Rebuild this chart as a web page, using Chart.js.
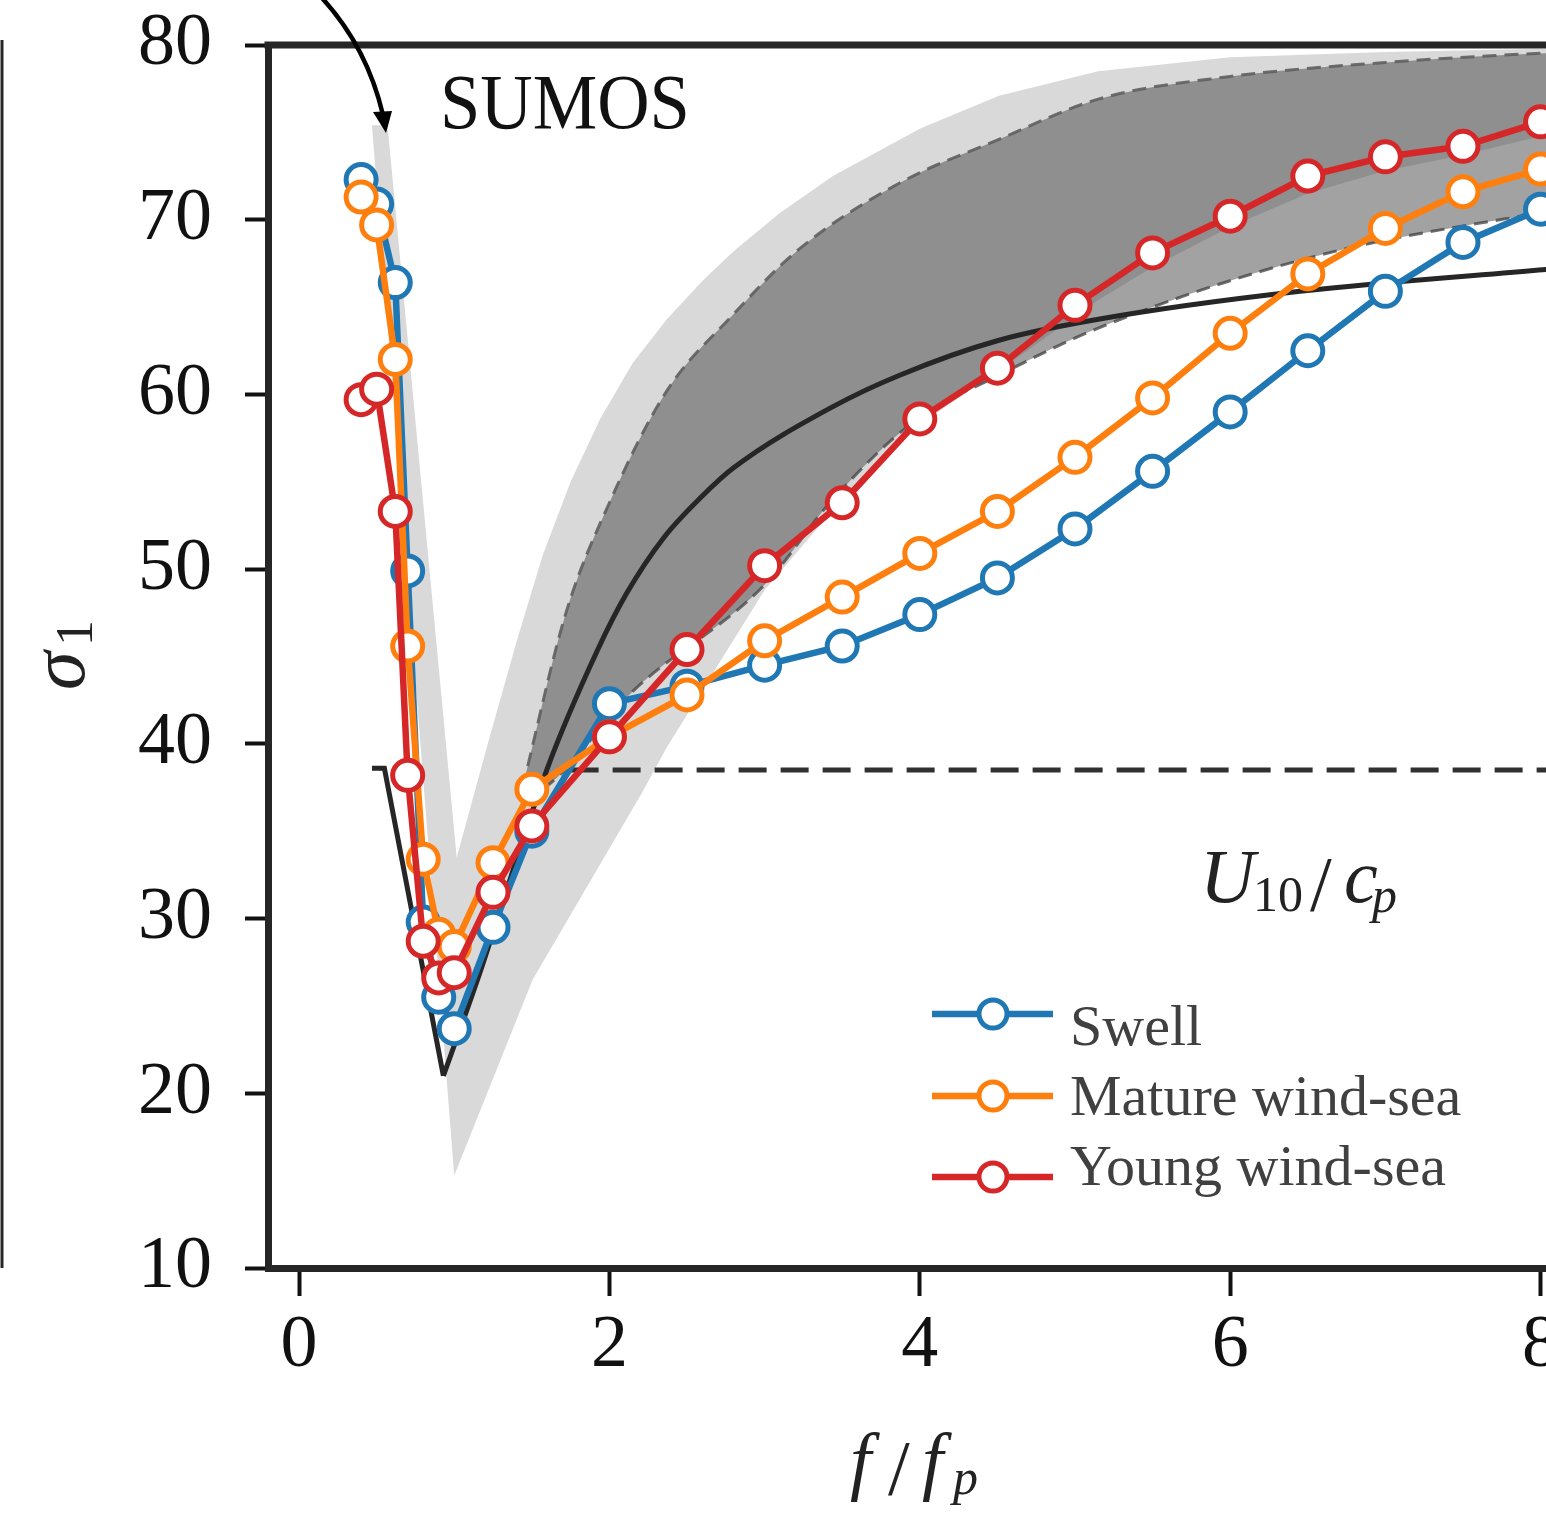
<!DOCTYPE html>
<html>
<head>
<meta charset="utf-8">
<title>sigma_1 vs f/fp</title>
<script src="https://cdn.jsdelivr.net/npm/chart.js@4.4.1/dist/chart.umd.min.js"></script>
<style>
  html, body { margin: 0; padding: 0; background: #fff; overflow: hidden; }
  #wrap { width: 1600px; height: 1513px; }
</style>
</head>
<body>
<div id="wrap"><canvas id="sigmaChart" width="1600" height="1513"></canvas></div>
<script>
// f/fp bin centres
const freqRatio = [0.4, 0.5, 0.62, 0.7, 0.8, 0.9, 1.0, 1.25, 1.5, 2, 2.5, 3, 3.5, 4, 4.5, 5, 5.5, 6, 6.5, 7, 7.5, 8];
// sigma_1 per sea state
const swell     = [72.3, 70.9, 66.4, 49.9, 29.8, 25.5, 23.7, 29.5, 35.0, 42.3, 43.3, 44.5, 45.6, 47.4, 49.5, 52.3, 55.6, 59.0, 62.5, 65.9, 68.7, 70.6];
const matureSea = [71.3, 69.7, 62.0, 45.6, 33.4, 29.1, 28.4, 33.2, 37.4, 40.4, 42.8, 45.9, 48.4, 50.9, 53.3, 56.4, 59.8, 63.5, 66.9, 69.5, 71.6, 72.9];
const youngSea  = [59.7, 60.3, 53.3, 38.2, 28.7, 26.6, 26.9, 31.5, 35.3, 40.4, 45.4, 50.2, 53.8, 58.6, 61.5, 65.1, 68.1, 70.2, 72.5, 73.6, 74.2, 75.6];

// fitted curve: falling branch and rising branch
const modelDownX = [0.47, 0.55, 0.93];
const modelDownY = [38.6, 38.6, 21.0];
const modelUpX = [0.93, 1.15, 1.6, 1.92, 2.11, 2.35, 2.6, 2.8, 3.44, 3.87, 4.51, 5.15, 6.45, 8.1];
const modelUpY = [21.0, 26.5, 38.6, 45.3, 48.6, 51.8, 54.2, 55.8, 59.3, 61.1, 63.1, 64.3, 65.9, 67.2];
// constant level
const levelX = [1.75, 8.1];
const levelY = [38.5, 38.5];

// SUMOS envelopes
const outerTopX = [0.47, 0.57, 1.016, 1.21, 1.4, 1.57, 1.75, 1.94, 2.15, 2.37, 2.6, 2.8, 3.1, 3.44, 4.0, 4.51, 5.15, 6.0, 7.0, 8.1];
const outerTopY = [75.4, 75.4, 33.5, 39.8, 45.8, 50.8, 55.0, 58.6, 61.8, 64.3, 66.5, 68.2, 70.4, 72.5, 75.2, 77.1, 78.5, 79.3, 79.6, 79.8];
const outerBotX = [0.47, 1.0, 1.505, 2.21, 2.37, 3.0, 3.5, 4.0, 4.5, 5.15, 5.5, 6.0, 6.5, 7.0, 7.5, 8.1];
const outerBotY = [75.4, 15.3, 26.5, 37.2, 39.8, 48.8, 54.0, 58.3, 61.3, 65.4, 67.3, 69.6, 71.5, 72.8, 73.7, 75.0];
const innerTopX = [1.44, 1.72, 2.0, 2.37, 2.79, 3.22, 3.87, 4.51, 5.15, 6.0, 7.0, 7.94, 8.1];
const innerTopY = [37.5, 47.5, 53.8, 60.2, 64.5, 68.3, 72.1, 74.6, 76.9, 78.2, 79.0, 79.5, 79.55];
const innerBotX = [1.44, 1.6, 2.15, 3.0, 3.43, 3.97, 4.51, 5.15, 6.5, 7.94, 8.1];
const innerBotY = [37.0, 37.6, 43.0, 49.1, 53.9, 58.5, 61.1, 63.8, 67.8, 70.3, 70.5];

const xTicks = [0, 2, 4, 6, 8];
const yTicks = [10, 20, 30, 40, 50, 60, 70, 80];

const pts = (xs, ys) => xs.map((x, i) => ({ x: x, y: ys[i] }));
const SERIF = '"Liberation Serif", "Times New Roman", serif';

function series(label, color, ys, order) {
  return {
    label: label, data: pts(freqRatio, ys), showLine: true, order: order,
    borderColor: color, borderWidth: 6.5, fill: false,
    pointRadius: 15, pointBorderWidth: 5, pointBorderColor: color, pointBackgroundColor: '#fff'
  };
}
function plain(xs, ys, opts) {
  return Object.assign({ data: pts(xs, ys), showLine: true, pointRadius: 0, fill: false }, opts);
}

// math-ish text: list of [text, font, dx, dy]
function drawParts(ctx, x, y, parts) {
  parts.forEach(p => {
    ctx.font = p[1];
    ctx.fillText(p[0], x + p[2], y + p[3]);
  });
}

const decor = {
  id: 'decor',
  afterDraw(chart) {
    const ctx = chart.ctx, a = chart.chartArea;
    ctx.save();
    ctx.strokeStyle = '#262626';
    ctx.lineWidth = 7;
    ctx.beginPath(); ctx.moveTo(a.left - 3.5, a.top); ctx.lineTo(chart.width, a.top); ctx.stroke();
    // frame edge of the neighbouring panel
    ctx.lineWidth = 3;
    ctx.beginPath(); ctx.moveTo(2, 40); ctx.lineTo(2, 1268); ctx.stroke();

    // arrow
    ctx.strokeStyle = '#000'; ctx.fillStyle = '#000'; ctx.lineWidth = 4.5;
    ctx.beginPath(); ctx.moveTo(322, -2); ctx.quadraticCurveTo(367, 47, 383, 115); ctx.stroke();
    ctx.beginPath(); ctx.moveTo(373, 112); ctx.lineTo(392, 111); ctx.lineTo(386, 133); ctx.closePath(); ctx.fill();

    ctx.textBaseline = 'alphabetic'; ctx.textAlign = 'left';
    // SUMOS tag
    ctx.fillStyle = '#111';
    ctx.save(); ctx.translate(440, 128); ctx.scale(0.93, 1);
    ctx.font = '78px ' + SERIF; ctx.fillText('SUMOS', 0, 0);
    ctx.restore();

    // U10/cp
    ctx.fillStyle = '#222';
    drawParts(ctx, 1200, 902, [
      ['U', 'italic 76px ' + SERIF, 0, 0],
      ['10', '50px ' + SERIF, 53, 9],
      ['/', '78px ' + SERIF, 110, 8],
      ['c', 'italic 76px ' + SERIF, 144, 0],
      ['p', 'italic 50px ' + SERIF, 172, 10]
    ]);

    // x title f/fp
    drawParts(ctx, 850, 1486, [
      ['f', 'italic 76px ' + SERIF, 0, 0],
      ['/', '78px ' + SERIF, 38, 8],
      ['f', 'italic 76px ' + SERIF, 72, 0],
      ['p', 'italic 50px ' + SERIF, 103, 8]
    ]);

    // y title sigma_1
    ctx.save(); ctx.translate(84, 690); ctx.rotate(-Math.PI / 2);
    drawParts(ctx, 0, 0, [
      ['\u03C3', 'italic 78px ' + SERIF, 0, 0],
      ['1', '52px ' + SERIF, 44, 8]
    ]);
    ctx.restore();

    // legend: handle row y, label baseline y
    const rows = [['Swell', 1014, 1045], ['Mature wind-sea', 1096, 1115], ['Young wind-sea', 1177, 1185]];
    const byLabel = {};
    chart.data.datasets.forEach(d => { byLabel[d.label] = d; });
    rows.forEach(r => {
      const ds = byLabel[r[0]];
      ctx.strokeStyle = ds.borderColor; ctx.lineWidth = 6.5;
      ctx.beginPath(); ctx.moveTo(932, r[1]); ctx.lineTo(1053, r[1]); ctx.stroke();
      ctx.fillStyle = '#fff'; ctx.lineWidth = 5;
      ctx.beginPath(); ctx.arc(993, r[1], 14, 0, Math.PI * 2); ctx.fill(); ctx.stroke();
      ctx.fillStyle = '#404040'; ctx.font = '58px ' + SERIF;
      ctx.fillText(r[0], 1070, r[2]);
    });
    ctx.restore();
  }
};

// keep label overhang from shifting the plot frame
const noPad = s => { s.paddingTop = 0; s.paddingBottom = 0; s.paddingLeft = 0; s.paddingRight = 0; };

new Chart(document.getElementById('sigmaChart'), {
  type: 'scatter',
  data: {
    datasets: [
      series('Young wind-sea', '#d62728', youngSea, 1),
      series('Mature wind-sea', '#ff7f0e', matureSea, 2),
      series('Swell', '#1f77b4', swell, 3),
      plain(modelDownX, modelDownY, { label: 'model down', borderColor: '#262626', borderWidth: 5, order: 4 }),
      plain(modelUpX, modelUpY, { label: 'model up', borderColor: '#262626', borderWidth: 5, order: 4, cubicInterpolationMode: 'monotone' }),
      plain(levelX, levelY, { label: 'level', borderColor: '#303030', borderWidth: 5, borderDash: [28, 14], order: 5 }),
      plain(innerTopX, innerTopY, { label: 'inner top', borderColor: 'rgba(95,95,95,0.9)', borderWidth: 3, borderDash: [14, 8],
        fill: '+1', backgroundColor: 'rgba(66,66,66,0.49)', order: 6, cubicInterpolationMode: 'monotone' }),
      plain(innerBotX, innerBotY, { label: 'inner bottom', borderColor: 'rgba(95,95,95,0.9)', borderWidth: 3, borderDash: [14, 8],
        order: 6, cubicInterpolationMode: 'monotone' }),
      plain(outerTopX, outerTopY, { label: 'outer top', borderColor: 'rgba(0,0,0,0)', borderWidth: 0,
        fill: '+1', backgroundColor: '#d9d9d9', order: 8 }),
      plain(outerBotX, outerBotY, { label: 'outer bottom', borderColor: 'rgba(0,0,0,0)', borderWidth: 0, order: 8 })
    ]
  },
  options: {
    responsive: false,
    animation: false,
    devicePixelRatio: 1,
    layout: { padding: { left: 0, top: 45, right: 54, bottom: 0 } },
    plugins: { legend: { display: false }, tooltip: { enabled: false } },
    elements: { line: { tension: 0 } },
    scales: {
      x: {
        type: 'linear', min: -0.2, max: 8.035,
        afterFit: s => { s.height = 245; noPad(s); },
        afterBuildTicks: s => { s.ticks = xTicks.map(v => ({ value: v })); },
        border: { color: '#262626', width: 7 },
        grid: { drawOnChartArea: false, drawTicks: true, tickLength: 28, tickWidth: 4, tickColor: '#111' },
        ticks: { font: { family: SERIF, size: 74 }, color: '#111', padding: 6, autoSkip: false, maxRotation: 0 }
      },
      y: {
        type: 'linear', min: 10, max: 80,
        afterFit: s => { s.width = 268; noPad(s); },
        afterBuildTicks: s => { s.ticks = yTicks.map(v => ({ value: v })); },
        border: { color: '#262626', width: 7 },
        grid: { drawOnChartArea: false, drawTicks: true, tickLength: 23, tickWidth: 4, tickColor: '#111' },
        ticks: { font: { family: SERIF, size: 74 }, color: '#111', padding: 33 }
      }
    }
  },
  plugins: [decor]
});
</script>
</body>
</html>
